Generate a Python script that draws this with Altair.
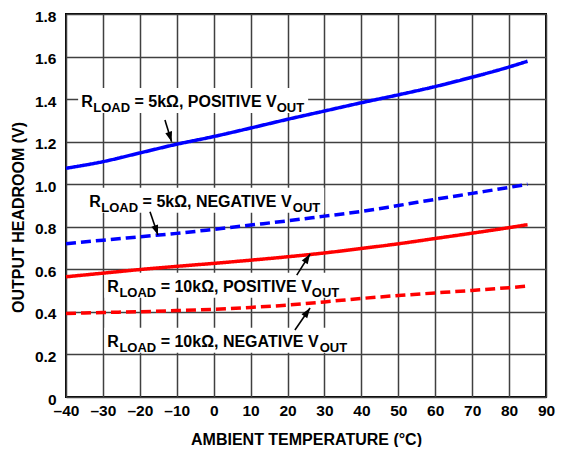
import math
import altair as alt
import pandas as pd

# ---------------- data ----------------
temps = [-40, -30, -20, -10, 0, 10, 20, 30, 40, 50, 60, 70, 80, 85]
blue_solid = [1.075, 1.106, 1.147, 1.188, 1.224, 1.264, 1.305, 1.344, 1.383, 1.42, 1.459, 1.503, 1.551, 1.578]
blue_dashed = [0.72, 0.737, 0.753, 0.769, 0.788, 0.808, 0.828, 0.85, 0.872, 0.90, 0.929, 0.957, 0.985, 1.0]
red_solid = [0.565, 0.582, 0.599, 0.614, 0.628, 0.643, 0.659, 0.677, 0.698, 0.72, 0.745, 0.77, 0.796, 0.81]
red_dashed = [0.393, 0.397, 0.401, 0.406, 0.412, 0.421, 0.432, 0.447, 0.463, 0.477, 0.489, 0.501, 0.514, 0.521]

series_names = ["5k_pos", "5k_neg", "10k_pos", "10k_neg"]
series_vals = [blue_solid, blue_dashed, red_solid, red_dashed]
series_color = ["blue", "blue", "red", "red"]
series_dash = ["solid", "dashed", "solid", "dashed"]

label_x = [-35.9, -33.7, -28.8, -28.8]
label_y = [1.363, 0.894, 0.495, 0.236]
label_main = ["= 5kΩ, POSITIVE V", "= 5kΩ, NEGATIVE V", "= 10kΩ, POSITIVE V", "= 10kΩ, NEGATIVE V"]

arrow_x1 = [-13.2, -17.25, 22.5, 22.0]
arrow_y1 = [1.302, 0.871, 0.573, 0.315]
arrow_x2 = [-11.4, -15.1, 26.1, 26.1]
arrow_y2 = [1.20, 0.761, 0.672, 0.418]

x_ticks = list(range(-40, 91, 10))
y_ticks = [0, 0.2, 0.4, 0.6, 0.8, 1.0, 1.2, 1.4, 1.6, 1.8]

# ---------------- layout / style ----------------
W_PLOT, H_PLOT = 480, 383
FONT = "Liberation Sans"
F_MAIN, F_SUB = 16, 13
px_x = W_PLOT / 130.0
px_y = H_PLOT / 1.8

CHAR_W = {'R': 722, 'L': 611, 'O': 778, 'A': 722, 'D': 722, ' ': 278, '=': 584, '5': 556,
          '1': 556, '0': 556, 'k': 556, 'Ω': 768, ',': 278, 'P': 667, 'S': 667, 'I': 278,
          'T': 611, 'V': 667, 'E': 667, 'N': 722, 'G': 778, 'U': 722}


def tw(s, size):
    return sum(CHAR_W.get(c, 600) for c in s) * size / 1000.0


rows = []
for name, vals, col, dash in zip(series_names, series_vals, series_color, series_dash):
    for t, v in zip(temps, vals):
        rows.append({"t": t, "v": v, "series": name, "col": col, "dash": dash})
df = pd.DataFrame(rows)

xs = alt.Scale(domain=[-40, 90], nice=False, zero=False)
ys = alt.Scale(domain=[0, 1.8], nice=False)

x_axis = alt.Axis(
    values=x_ticks, title="AMBIENT TEMPERATURE (°C)",
    labelExpr="datum.value < 0 ? '–' + abs(datum.value) : '' + datum.value",
    labelPadding=6, labelFlush=False, titleY=42, titleBaseline="middle",
)
y_axis = alt.Axis(
    values=y_ticks, title="OUTPUT HEADROOM (V)",
    labelExpr="datum.value == 0 ? '0' : format(datum.value, '.1f')",
    labelPadding=10, labelFlush=False, labelOffset=2,
    titleX=-48, titleY=203, titleBaseline="middle", titleAlign="center",
)

lines = alt.Chart(df).mark_line(strokeWidth=3.5, interpolate="monotone").encode(
    x=alt.X("t:Q", scale=xs, axis=x_axis),
    y=alt.Y("v:Q", scale=ys, axis=y_axis),
    color=alt.Color("col:N", scale=alt.Scale(domain=["blue", "red"], range=["#0000ff", "#ff0000"]), legend=None),
    strokeDash=alt.StrokeDash("dash:N", scale=alt.Scale(domain=["solid", "dashed"], range=[[1, 0], [10, 5]]), legend=None),
    detail="series:N",
)

layers = []
SPACE = tw(" ", F_MAIN)

# white boxes behind labels (symbol path in pixels, size=4 -> scale 1)
for lx, ly, main in zip(label_x, label_y, label_main):
    w_total = tw("R", F_MAIN) + 0.5 + tw("LOAD", F_SUB) + SPACE + tw(main, F_MAIN) + 0.5 + tw("OUT", F_SUB)
    path = f"M-3,-19H{w_total + 4:.1f}V6H-3Z"
    box = alt.Chart(pd.DataFrame({"x": [lx], "y": [ly]})).mark_point(
        shape=path, size=4, filled=True, fill="white", stroke=None, opacity=1
    ).encode(x=alt.X("x:Q", scale=xs, axis=x_axis), y=alt.Y("y:Q", scale=ys, axis=y_axis))
    layers.append(box)

layers.append(lines)

for lx, ly, main in zip(label_x, label_y, label_main):
    d = pd.DataFrame({"x": [lx], "y": [ly]})
    base = alt.Chart(d).encode(x=alt.X("x:Q", scale=xs, axis=x_axis), y=alt.Y("y:Q", scale=ys, axis=y_axis))
    dx_load = tw("R", F_MAIN) + 0.5
    dx_main = dx_load + tw("LOAD", F_SUB) + SPACE
    dx_out = dx_main + tw(main, F_MAIN) + 0.5
    common = dict(align="left", baseline="alphabetic", font=FONT, fontWeight="bold", color="black")
    layers.append(base.mark_text(text="R", fontSize=F_MAIN, dx=0, **common))
    layers.append(base.mark_text(text="LOAD", fontSize=F_SUB, dx=dx_load, dy=5, **common))
    layers.append(base.mark_text(text=main, fontSize=F_MAIN, dx=dx_main, **common))
    layers.append(base.mark_text(text="OUT", fontSize=F_SUB, dx=dx_out, dy=5, **common))

# arrows
adf = pd.DataFrame({"x1": arrow_x1, "y1": arrow_y1, "x2": arrow_x2, "y2": arrow_y2})
adf["ang"] = [
    (math.degrees(math.atan2((bx - ax) * px_x, (by - ay) * px_y)) + 360) % 360
    for ax, ay, bx, by in zip(arrow_x1, arrow_y1, arrow_x2, arrow_y2)
]
rules = alt.Chart(adf).mark_rule(color="black", strokeWidth=1.6).encode(
    x=alt.X("x1:Q", scale=xs, axis=x_axis), y=alt.Y("y1:Q", scale=ys, axis=y_axis),
    x2="x2:Q", y2="y2:Q",
)
layers.append(rules)
for i in range(len(adf)):
    head = alt.Chart(adf.iloc[[i]]).mark_point(
        shape="M0,0L-3.5,10L3.5,10Z", size=4, filled=True, fill="black", stroke=None,
        opacity=1, angle=float(adf["ang"].iloc[i]),
    ).encode(x=alt.X("x2:Q", scale=xs, axis=x_axis), y=alt.Y("y2:Q", scale=ys, axis=y_axis))
    layers.append(head)

chart = alt.layer(*layers).properties(
    width=W_PLOT, height=H_PLOT,
    background="white",
    autosize=alt.AutoSizeParams(type="none"),
    padding={"left": 58, "top": 6, "right": 12, "bottom": 50},
).configure_view(
    stroke="black", strokeWidth=2
).configure_axis(
    grid=True, gridColor="#404040", gridWidth=1.5, domain=False, ticks=False, tickSize=0,
    labelFont=FONT, labelFontSize=15.5, labelFontWeight="bold", labelColor="black",
    titleFont=FONT, titleFontSize=16, titleFontWeight="bold", titleColor="black",
)

chart.save("out.html", embed_options={"renderer": "svg", "actions": False})
